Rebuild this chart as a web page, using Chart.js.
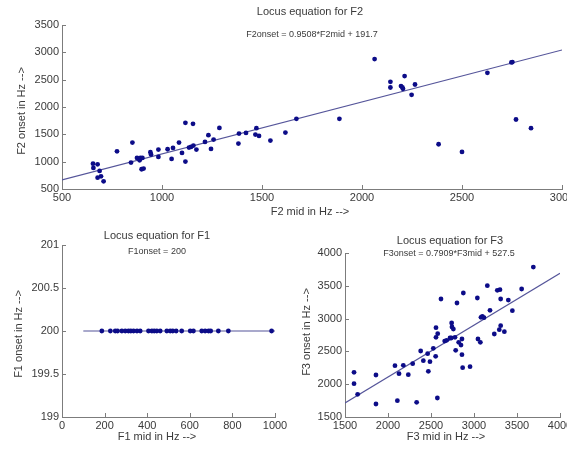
<!DOCTYPE html>
<html>
<head>
<meta charset="utf-8">
<script src="https://cdn.jsdelivr.net/npm/chart.js@4.4.0/dist/chart.umd.min.js"></script>
<style>
  html, body { margin: 0; padding: 0; background: #fff; }
  #wrap { position: relative; width: 567px; height: 450px; overflow: hidden; }
  canvas { position: absolute; }
</style>
</head>
<body>
<div id="wrap">
  <canvas id="f2" width="567" height="225" style="left:0;top:0"></canvas>
  <canvas id="f1" width="300" height="225" style="left:0;top:225px"></canvas>
  <canvas id="f3" width="284" height="225" style="left:283px;top:225px"></canvas>
</div>
<script>
// F2: mid vs onset (Hz)
const f2Mid = [655, 657, 678, 688, 678, 695, 708, 775, 845, 852, 875, 888, 892, 898, 908, 902,
  942, 945, 982, 982, 1028, 1048, 1055, 1085, 1100, 1117, 1117, 1135, 1145, 1155, 1157, 1172,
  1215, 1232, 1245, 1258, 1287, 1382, 1385, 1420, 1472, 1467, 1485, 1542, 1617, 1672, 1887,
  2063, 2142, 2142, 2213, 2195, 2202, 2205, 2265, 2248, 2383, 2500, 2627, 2747, 2752, 2770, 2845]
const f2Onset = [964, 885, 952, 830, 708, 732, 641, 1190, 983, 1349, 1068, 1025, 1068, 861, 873, 1068,
  1172, 1129, 1221, 1087, 1227, 1050, 1251, 1349, 1160, 1710, 1001, 1258, 1270, 1692, 1294, 1221,
  1361, 1484, 1233, 1404, 1618, 1331, 1514, 1526, 1612, 1496, 1471, 1386, 1533, 1783, 1783,
  2877, 2461, 2357, 2565, 2382, 2357, 2333, 2412, 2223, 1319, 1178, 2626, 2816, 2822, 1771, 1612]
const f2FitX = [500, 3000]
const f2FitY = [667, 3044]
const f2Ticks = { x: [500, 1000, 1500, 2000, 2500, 3000], y: [500, 1000, 1500, 2000, 2500, 3000, 3500] }

// F1: every onset is 200 Hz
const f1Mid = [187, 227, 250, 261, 281, 297, 312, 323, 336, 352, 367, 406, 422, 433, 445, 461,
  492, 508, 520, 536, 562, 602, 617, 656, 672, 688, 698, 734, 781, 984]
const f1Onset = f1Mid.map(() => 200)
const f1FitX = [100, 1000]
const f1FitY = [200, 200]
const f1Ticks = { x: [0, 200, 400, 600, 800, 1000], y: [199, 199.5, 200, 200.5, 201] }

// F3
const f3Mid = [1605, 1605, 1647, 1860, 1860, 2081, 2109, 2128, 2178, 2236, 2287, 2333, 2380, 2411,
  2461, 2469, 2488, 2527, 2554, 2558, 2558, 2578, 2574, 2616, 2659, 2682, 2721, 2740, 2744, 2760,
  2736, 2779, 2787, 2802, 2822, 2849, 2860, 2860, 2868, 2876, 2954, 3039, 3046, 3074, 3081, 3097,
  3116, 3155, 3186, 3236, 3271, 3302, 3310, 3294, 3310, 3353, 3399, 3446, 3554, 3690]
const f3Onset = [2181, 2008, 1846, 2140, 1698, 2282, 1749, 2161, 2288, 2145, 2313, 1724, 2506, 2359,
  2465, 2196, 2343, 2547, 2425, 2862, 2714, 2770, 1790, 3299, 2658, 2669, 2704, 2933, 2872, 2841,
  2704, 2714, 2516, 3238, 2638, 2597, 2689, 2450, 2252, 3390, 2267, 3314, 2689, 2638, 3019, 3034,
  3014, 3502, 3126, 2765, 3431, 3441, 3299, 2831, 2892, 2801, 3283, 3121, 3451, 3786]
const f3FitX = [1500, 4000]
const f3FitY = [1714, 3691]
const f3Ticks = { x: [1500, 2000, 2500, 3000, 3500, 4000], y: [1500, 2000, 2500, 3000, 3500, 4000] }

const axisGrey = '#7c7c7c'
const dotBlue = '#0c0c88'
const lineBlue = '#55559a'
const textGrey = '#3a3a3a'
const fontFam = '"Liberation Sans", Arial, sans-serif'

const pts = (xs, ys) => xs.map((x, i) => ({ x: x, y: ys[i] }))

// small inward tick marks, matlab style
const tickMarks = {
  id: 'tickMarks',
  afterDraw(chart) {
    const { ctx, chartArea, scales } = chart
    ctx.save()
    ctx.strokeStyle = axisGrey
    ctx.lineWidth = 1
    scales.x.ticks.forEach(t => {
      const px = Math.round(scales.x.getPixelForValue(t.value)) + 0.5
      ctx.beginPath()
      ctx.moveTo(px, chartArea.bottom)
      ctx.lineTo(px, chartArea.bottom - 4)
      ctx.stroke()
    })
    scales.y.ticks.forEach(t => {
      const py = Math.round(scales.y.getPixelForValue(t.value)) + 0.5
      ctx.beginPath()
      ctx.moveTo(chartArea.left, py)
      ctx.lineTo(chartArea.left + 4, py)
      ctx.stroke()
    })
    ctx.restore()
  }
}

const captions = {
  id: 'captions',
  afterDraw(chart, args, o) {
    const ctx = chart.ctx
    ctx.save()
    ctx.fillStyle = textGrey
    ctx.textAlign = 'center'
    ctx.textBaseline = 'middle'
    ctx.font = '11px ' + fontFam
    ctx.fillText(o.title, o.titleX, o.titleY)
    ctx.fillText(o.xLabel, o.xLabelX, o.xLabelY)
    ctx.font = '9px ' + fontFam
    ctx.fillText(o.eq, o.eqX, o.eqY)
    ctx.font = '11px ' + fontFam
    ctx.translate(o.yLabelX, o.yLabelY)
    ctx.rotate(-Math.PI / 2)
    ctx.fillText(o.yLabel, 0, 0)
    ctx.restore()
  }
}

function makeChart(id, mid, onset, fitX, fitY, ticks, box, cap) {
  const fixTicks = list => scale => {
    scale.ticks = list.map(v => ({ value: v }))
  }
  return new Chart(document.getElementById(id), {
    type: 'scatter',
    data: {
      datasets: [
        {
          data: pts(mid, onset),
          pointRadius: 2.4,
          pointBackgroundColor: dotBlue,
          pointBorderWidth: 0,
          showLine: false
        },
        {
          data: pts(fitX, fitY),
          showLine: true,
          borderColor: lineBlue,
          borderWidth: 1.1,
          pointRadius: 0
        }
      ]
    },
    options: {
      responsive: false,
      animation: false,
      events: [],
      layout: { padding: { top: box.top, right: box.right, left: 0, bottom: 0 } },
      plugins: { legend: { display: false }, tooltip: { enabled: false }, captions: cap },
      scales: {
        x: {
          type: 'linear',
          min: ticks.x[0],
          max: ticks.x[ticks.x.length - 1],
          afterBuildTicks: fixTicks(ticks.x),
          afterFit: s => { s.height = box.xh; s.paddingLeft = 0; s.paddingRight = 0 },
          grid: { display: false, drawTicks: false },
          border: { display: true, color: axisGrey, width: 1 },
          ticks: { padding: 2, color: textGrey, font: { size: 11, family: fontFam }, maxRotation: 0, autoSkip: false, callback: v => String(v) }
        },
        y: {
          type: 'linear',
          min: ticks.y[0],
          max: ticks.y[ticks.y.length - 1],
          afterBuildTicks: fixTicks(ticks.y),
          afterFit: s => { s.width = box.yw; s.paddingTop = 0; s.paddingBottom = 0 },
          grid: { display: false, drawTicks: false },
          border: { display: true, color: axisGrey, width: 1 },
          ticks: { padding: 3, color: textGrey, font: { size: 11, family: fontFam }, autoSkip: false, callback: v => String(v) }
        }
      }
    },
    plugins: [tickMarks, captions]
  })
}

makeChart('f2', f2Mid, f2Onset, f2FitX, f2FitY, f2Ticks,
  { top: 25, right: 5, xh: 36, yw: 62 },
  { title: 'Locus equation for F2', titleX: 310, titleY: 12,
    eq: 'F2onset = 0.9508*F2mid + 191.7', eqX: 312, eqY: 35,
    xLabel: 'F2 mid in Hz -->', xLabelX: 310, xLabelY: 212,
    yLabel: 'F2 onset in Hz -->', yLabelX: 22, yLabelY: 111 })

makeChart('f1', f1Mid, f1Onset, f1FitX, f1FitY, f1Ticks,
  { top: 20, right: 25, xh: 33, yw: 62 },
  { title: 'Locus equation for F1', titleX: 157, titleY: 11,
    eq: 'F1onset = 200', eqX: 157, eqY: 27,
    xLabel: 'F1 mid in Hz -->', xLabelX: 157, xLabelY: 212,
    yLabel: 'F1 onset in Hz -->', yLabelX: 19, yLabelY: 109 })

makeChart('f3', f3Mid, f3Onset, f3FitX, f3FitY, f3Ticks,
  { top: 28, right: 7, xh: 33, yw: 62 },
  { title: 'Locus equation for F3', titleX: 167, titleY: 16,
    eq: 'F3onset = 0.7909*F3mid + 527.5', eqX: 166, eqY: 29,
    xLabel: 'F3 mid in Hz -->', xLabelX: 163, xLabelY: 212,
    yLabel: 'F3 onset in Hz -->', yLabelX: 24, yLabelY: 107 })
</script>
</body>
</html>
